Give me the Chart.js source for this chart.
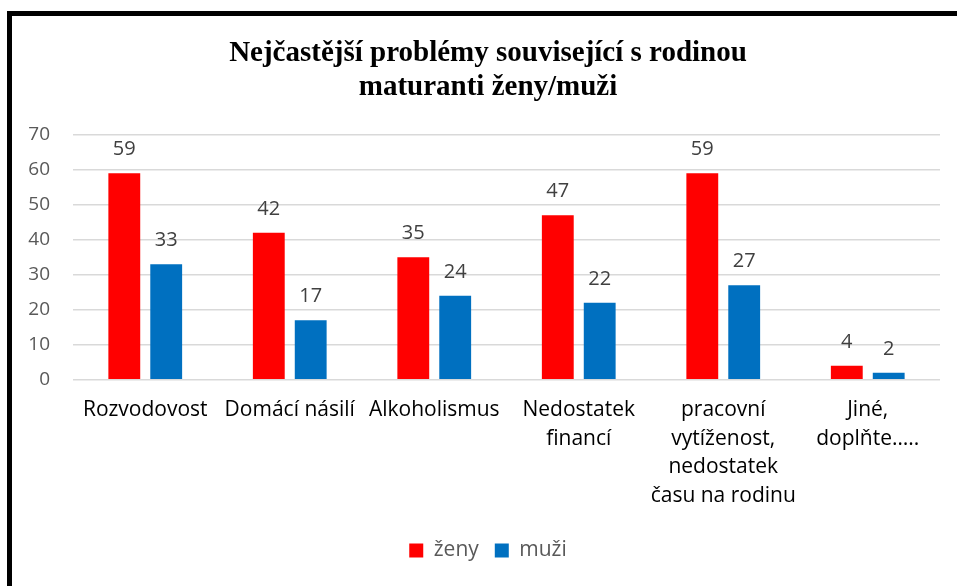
<!DOCTYPE html>
<html>
<head>
<meta charset="utf-8">
<script src="https://cdn.jsdelivr.net/npm/chart.js@4"></script>
<style>
html, body { margin: 0; padding: 0; background: #fff; overflow: hidden; }
.frame {
	position: absolute;
	left: 7px;
	top: 11px;
	width: 1000px;
	height: 640px;
	border-top: 5px solid #000;
	border-left: 5px solid #000;
}
.wrap {
	position: absolute;
	left: 12px;
	top: 16px;
	width: 952px;
	height: 570px;
}
</style>
</head>
<body>
<div class="frame"></div>
<div class="wrap"><canvas id="graf"></canvas></div>
<script>
var kategorie = [
	'Rozvodovost',
	'Domácí násilí',
	'Alkoholismus',
	['Nedostatek', 'financí'],
	['pracovní', 'vytíženost,', 'nedostatek', 'času na rodinu'],
	['Jiné,', 'doplňte…..'],
];
var zeny = [59, 42, 35, 47, 59, 4];
var muzi = [33, 17, 24, 22, 27, 2];
var osaY = [0, 10, 20, 30, 40, 50, 60, 70];

var pismo = '"Open Sans", sans-serif';

// hodnoty nad sloupci
var popisky = {
	id: 'popisky',
	afterDatasetsDraw: function(chart) {
		var ctx = chart.ctx;
		ctx.save();
		ctx.font = '20px ' + pismo;
		ctx.fillStyle = '#404040';
		ctx.textAlign = 'center';
		ctx.textBaseline = 'alphabetic';
		chart.data.datasets.forEach(function(ds, i) {
			chart.getDatasetMeta(i).data.forEach(function(bar, j) {
				ctx.fillText(ds.data[j], bar.x, bar.y - 18);
			});
		});
		ctx.restore();
	},
};

new Chart(document.getElementById('graf'), {
	type: 'bar',
	data: {
		labels: kategorie,
		datasets: [
			{ label: 'ženy', data: zeny, backgroundColor: '#ff0000' },
			{ label: 'muži', data: muzi, backgroundColor: '#0070c0' },
		],
	},
	options: {
		responsive: true,
		maintainAspectRatio: false,
		animation: false,
		datasets: {
			bar: { barPercentage: 0.76, categoryPercentage: 0.58 },
		},
		layout: { padding: { left: 0, right: 0, bottom: 15 } },
		scales: {
			x: {
				afterFit: function(axis) {
					axis.height += 6;
				},
				grid: { display: false },
				border: { display: false },
				ticks: {
					color: '#000',
					font: { family: pismo, size: 21, lineHeight: 1.36 },
					maxRotation: 0,
					autoSkip: false,
					padding: 8,
				},
			},
			y: {
				min: 0,
				max: 70,
				afterBuildTicks: function(axis) {
					axis.ticks = osaY.map(function(v) { return { value: v }; });
				},
				afterFit: function(axis) {
					axis.width = 61;
				},
				grid: { color: '#d9d9d9', lineWidth: 1.5, drawTicks: false },
				border: { display: false },
				ticks: {
					color: '#595959',
					font: { family: pismo, size: 19 },
					padding: 23,
				},
			},
			// prázdný okraj vpravo od grafu
			okraj: {
				type: 'linear',
				position: 'right',
				afterFit: function(axis) {
					axis.width = 24;
				},
				grid: { display: false },
				border: { display: false },
				ticks: { display: false },
			},
		},
		plugins: {
			title: {
				display: true,
				text: ['Nejčastější problémy související s rodinou', 'maturanti ženy/muži'],
				color: '#000',
				font: { family: '"Liberation Serif", serif', size: 29, weight: 'bold', lineHeight: 1.17 },
				padding: { top: 21, bottom: 30 },
			},
			legend: {
				position: 'bottom',
				labels: {
					color: '#595959',
					font: { family: pismo, size: 21 },
					boxWidth: 14,
					boxHeight: 14,
					padding: 16,
				},
			},
			tooltip: { enabled: false },
		},
	},
	plugins: [popisky],
});
</script>
</body>
</html>
